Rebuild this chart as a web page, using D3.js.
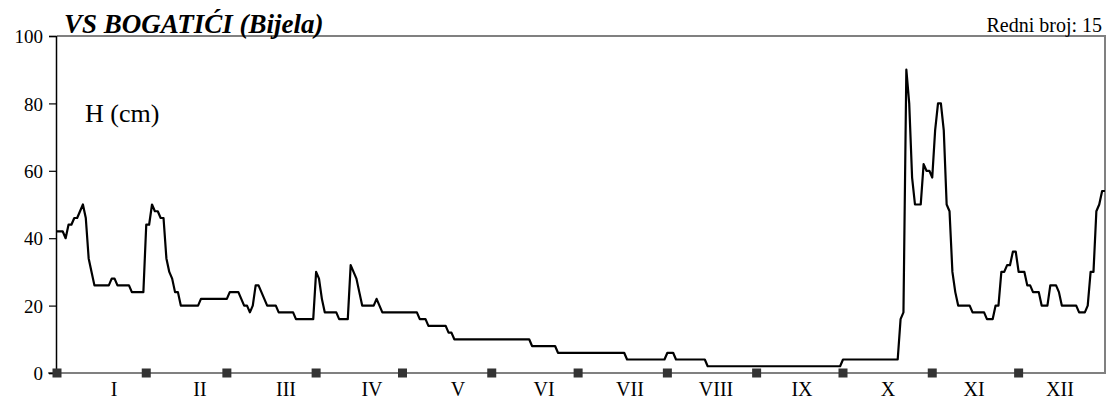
<!DOCTYPE html>
<html>
<head>
<meta charset="utf-8">
<script src="https://cdn.jsdelivr.net/npm/d3@7"></script>
<style>
  html, body { margin: 0; padding: 0; background: #fff; }
  svg { display: block; }
  text { font-family: "Liberation Serif", "Times New Roman", serif; fill: #000; }
</style>
</head>
<body>
<svg id="chart" width="1111" height="405"></svg>
<script>
// ---- Data (daily water level H in cm, one array per month) ----
const monthLabels = ["I","II","III","IV","V","VI","VII","VIII","IX","X","XI","XII"];
const jan = [42,42,42,40,44,44,46,46,48,50,46,34,30,26,26,26,26,26,26,28,28,26,26,26,26,26,24,24,24,24,24];
const feb = [44,44,50,48,48,46,46,34,30,28,24,24,20,20,20,20,20,20,20,22,22,22,22,22,22,22,22,22];
const mar = [22,24,24,24,24,22,20,20,18,20,26,26,24,22,20,20,20,20,18,18,18,18,18,18,16,16,16,16,16,16,16];
const apr = [30,28,22,18,18,18,18,18,16,16,16,16,32,30,28,24,20,20,20,20,20,22,20,18,18,18,18,18,18,18];
const may = [18,18,18,18,18,18,16,16,16,14,14,14,14,14,14,14,12,12,10,10,10,10,10,10,10,10,10,10,10,10,10];
const jun = [10,10,10,10,10,10,10,10,10,10,10,10,10,10,8,8,8,8,8,8,8,8,8,6,6,6,6,6,6,6];
const jul = [6,6,6,6,6,6,6,6,6,6,6,6,6,6,6,6,6,4,4,4,4,4,4,4,4,4,4,4,4,4,4];
const aug = [6,6,6,4,4,4,4,4,4,4,4,4,4,4,2,2,2,2,2,2,2,2,2,2,2,2,2,2,2,2,2];
const sep = [2,2,2,2,2,2,2,2,2,2,2,2,2,2,2,2,2,2,2,2,2,2,2,2,2,2,2,2,2,2];
const oct = [4,4,4,4,4,4,4,4,4,4,4,4,4,4,4,4,4,4,4,4,16,18,90,80,58,50,50,50,62,60,60];
const nov = [58,72,80,80,72,50,48,30,24,20,20,20,20,20,18,18,18,18,18,16,16,16,20,20,30,30,32,32,36,36];
const dec = [30,30,30,26,26,24,24,24,20,20,20,26,26,26,24,20,20,20,20,20,20,18,18,18,20,30,30,48,50,54,54];
const yTicks = [0,20,40,60,80,100];
const title = "VS BOGATIĆI (Bijela)";
const stationNo = "Redni broj: 15";
const unitLabel = "H (cm)";

// ---- Build series ----
const months = [jan,feb,mar,apr,may,jun,jul,aug,sep,oct,nov,dec];
const values = months.flat();
const monthStarts = [];
{ let acc = 0; months.forEach(m => { monthStarts.push(acc); acc += m.length; }); }

// ---- Layout ----
const svg = d3.select("#chart");
const pL = 57, pR = 1105, pT = 36, pB = 373;
const x = d3.scaleLinear().domain([0, values.length - 1]).range([pL, pR]);
const y = d3.scaleLinear().domain([0, 100]).range([pB, pT]);
const xLab = d3.scalePoint().domain(monthLabels).range([114, 1060]);

svg.append("rect").attr("width", 1111).attr("height", 405).attr("fill", "#fff");

// frame (top and right, gray)
svg.append("path")
  .attr("d", `M${pL},${pT}H${pR}V${pB}`)
  .attr("fill", "none").attr("stroke", "#808080").attr("stroke-width", 2);

// x axis gray line
svg.append("line")
  .attr("x1", 48).attr("x2", pR + 1).attr("y1", y(0)).attr("y2", y(0))
  .attr("stroke", "#808080").attr("stroke-width", 2);

// y axis
const yAxis = d3.axisLeft(y).tickValues(yTicks).tickSize(7).tickPadding(6);
const gy = svg.append("g").attr("transform", `translate(${pL - 1},0)`).call(yAxis);
gy.select(".domain").attr("stroke", "#000").attr("stroke-width", 1.5);
gy.selectAll(".tick line").attr("stroke", "#000").attr("stroke-width", 1.2);
gy.selectAll(".tick text")
  .style("font-family", '"Liberation Serif", "Times New Roman", serif')
  .style("font-size", "19px").attr("fill", "#000").attr("dy", "0.35em");

// month start markers
svg.append("g").selectAll("rect").data(monthStarts).join("rect")
  .attr("x", d => x(d) - 4.5).attr("y", y(0) - 4.5)
  .attr("width", 9).attr("height", 9).attr("fill", "#333");

// month labels
svg.append("g").selectAll("text").data(monthLabels).join("text")
  .attr("x", d => xLab(d)).attr("y", 396)
  .attr("text-anchor", "middle").style("font-size", "20px").text(d => d);

// data line
const line = d3.line().x((d, i) => x(i)).y(d => y(d));
svg.append("path").datum(values)
  .attr("d", line).attr("fill", "none")
  .attr("stroke", "#000").attr("stroke-width", 2.2).attr("stroke-linejoin", "round");

// texts
svg.append("text").attr("x", 64).attr("y", 33)
  .style("font-size", "27px").style("font-weight", "bold").style("font-style", "italic")
  .text(title);
svg.append("text").attr("x", 1102).attr("y", 32).attr("text-anchor", "end")
  .style("font-size", "20px").text(stationNo);
svg.append("text").attr("x", 85).attr("y", 122)
  .style("font-size", "26px").text(unitLabel);
</script>
</body>
</html>
